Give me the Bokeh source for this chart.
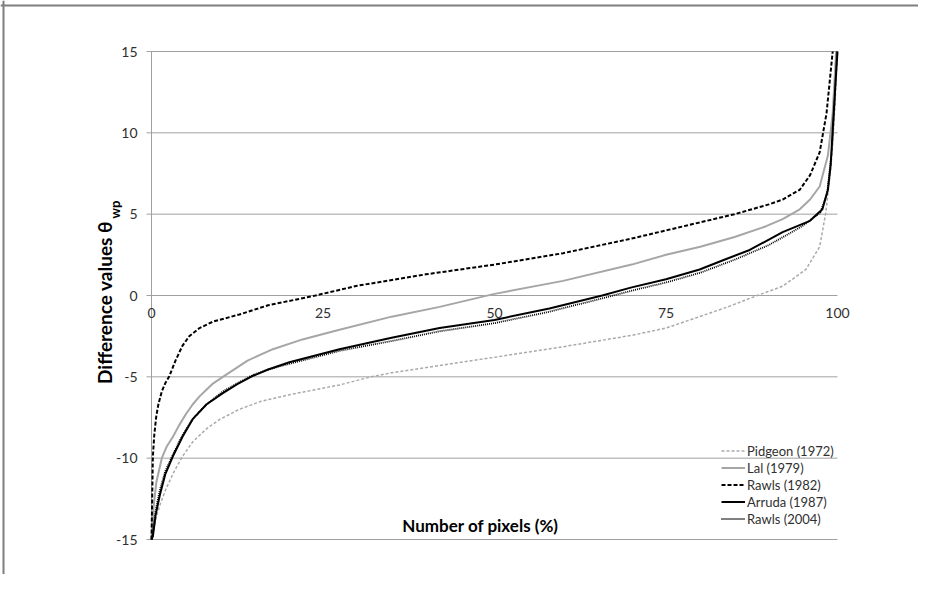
import math
from bokeh.plotting import figure
from bokeh.models import Legend, LegendItem, Label, Span
from bokeh.core.properties import value
from bokeh.embed import file_html
from bokeh.resources import INLINE

# ---------------- data ----------------
x_ticks = [0, 25, 50, 75, 100]
x_tick_labels = ["0", "25", "50", "75", "100"]
y_ticks = [-15, -10, -5, 0, 5, 10, 15]
y_tick_labels = ["-15", "-10", "-5", "0", "5", "10", "15"]

pidgeon_x = [0, 0.3, 0.7, 1.3, 2.1, 3.2, 4.5, 6, 8, 10, 12.8, 16, 20.1, 27.4, 32, 35, 42, 50,
             60, 65, 70, 75, 79.9, 84, 88.3, 92, 95.4, 97.4, 98.3, 99.1, 99.6, 100]
pidgeon_y = [-15, -14.5, -13.6, -12.8, -11.9, -10.9, -9.9, -9.0, -8.2, -7.6, -7.0, -6.5, -6.1,
             -5.5, -5.0, -4.75, -4.3, -3.8, -3.15, -2.8, -2.45, -2.0, -1.3, -0.7, 0.0, 0.57,
             1.6, 3.0, 5.1, 8.2, 11.5, 15]

lal_x = [0, 0.3, 0.7, 1.5, 2.2, 3.1, 4, 5, 6, 7, 8, 9, 10.9, 14, 17.7, 22, 27.4, 35, 42, 50,
         60, 70, 75, 80, 85, 89.6, 92, 94.5, 96, 97.4, 98.6, 99.3, 99.8]
lal_y = [-15, -13, -11.5, -10, -9.3, -8.7, -8.0, -7.3, -6.7, -6.2, -5.8, -5.4, -4.86, -4.0,
         -3.3, -2.7, -2.1, -1.3, -0.7, 0.1, 0.9, 1.9, 2.5, 3.0, 3.6, 4.26, 4.7, 5.3, 5.9, 6.7,
         8.6, 11.2, 15]

rawls82_x = [0, 0.2, 0.4, 0.7, 1.0, 1.5, 2.0, 2.6, 3.5, 4.5, 5.5, 7, 9, 12.8, 17, 23.5, 30,
             40, 50, 60, 70, 75, 80, 85, 90, 92, 94.5, 96, 97.4, 98.4, 99.3]
rawls82_y = [-15, -9.9, -8.6, -7.4, -6.7, -5.9, -5.4, -4.96, -4.0, -3.1, -2.5, -2.0, -1.6,
             -1.17, -0.6, -0.04, 0.6, 1.3, 1.9, 2.6, 3.5, 4.0, 4.5, 5.0, 5.6, 5.9, 6.5, 7.4,
             8.8, 11.2, 15]

arruda_x = [0, 0.2, 0.6, 1.2, 2, 3.1, 4.5, 6, 8, 10.4, 12.5, 14.7, 17, 20.1, 27.4, 35, 42, 50,
            58, 65.7, 70, 75, 79.9, 83.5, 87.2, 92, 95.9, 97.8, 98.6, 99.0, 99.3, 99.7, 100]
arruda_y = [-15, -14.8, -13.5, -12.3, -11.0, -9.9, -8.7, -7.6, -6.7, -6.0, -5.45, -4.96,
            -4.55, -4.1, -3.3, -2.6, -2.0, -1.5, -0.8, 0.0, 0.5, 1.0, 1.6, 2.2, 2.8, 3.9,
            4.57, 5.3, 6.5, 8.0, 10.2, 13, 15]

rawls04_x = [0, 0.2, 0.6, 1.2, 2, 3.1, 4.5, 6, 8, 10.4, 12.5, 14.7, 17, 20.1, 27.4, 35, 42, 50,
             58, 67.3, 70, 75, 80, 85, 90, 95, 97.5, 98.5, 99.2, 99.6, 99.9]
rawls04_y = [-15, -14.5, -13.2, -12.0, -10.8, -9.8, -8.6, -7.6, -6.7, -5.9, -5.4, -4.9, -4.55,
             -4.2, -3.4, -2.8, -2.2, -1.7, -1.0, 0.0, 0.3, 0.8, 1.4, 2.2, 3.1, 4.3, 5.1, 6.3,
             9.0, 12.0, 15]

series_names = ["Pidgeon (1972)", "Lal (1979)", "Rawls (1982)", "Arruda (1987)", "Rawls (2004)"]
x_title = "Number of pixels (%)"
y_title = "Difference values \u03b8"
y_title_sub = "wp"

FONT = "Lato"
GRID = "#a0a0a0"
TXT = "#303030"

# ---------------- geometry (pixels) ----------------
W, H = 918, 574           # canvas = plot frame
X_PX = 686 / 100.0        # pixels per x unit
Y_PX = 488 / 30.0         # pixels per y unit
LEFT = 151                # canvas px from left edge to x = 0
TOP = 51                  # canvas px from top edge to y = 15
BORDER_X, BORDER_Y = 3, 5 # outer picture border (canvas px)

x_range = (-LEFT / X_PX, (W - LEFT) / X_PX)
y_range = (15 + TOP / Y_PX - H / Y_PX, 15 + TOP / Y_PX)

p = figure(frame_width=W, frame_height=H, min_border=0,
           x_range=x_range, y_range=y_range,
           x_axis_location=None, y_axis_location=None,
           output_backend="svg", toolbar_location=None)
p.outline_line_color = None
p.xgrid.visible = False
p.ygrid.visible = False
p.background_fill_color = "white"
p.border_fill_color = "white"

# outer picture border (left and top)
p.add_layout(Span(location=-(LEFT - BORDER_X) / X_PX, dimension="height",
                  line_color="#7f7f7f", line_width=2))
p.add_layout(Span(location=15 + (TOP - BORDER_Y) / Y_PX, dimension="width",
                  line_color="#7f7f7f", line_width=2))

# horizontal grid lines (extended 5 px left of the axis as tick marks)
n = len(y_ticks)
p.segment(x0=[-5 / X_PX] * n, x1=[x_ticks[-1]] * n, y0=y_ticks, y1=y_ticks,
          line_color=GRID, line_width=1)
# vertical axis line
p.segment(x0=[0], x1=[0], y0=[y_ticks[0]], y1=[y_ticks[-1]], line_color=GRID, line_width=1)

# tick labels
p.text(x=[0] * n, y=y_ticks, text=y_tick_labels, x_offset=-14,
       text_align="right", text_baseline="middle", text_font=value(FONT),
       text_font_size="14px", text_color=TXT)
p.text(x=x_ticks, y=[0] * len(x_ticks), text=x_tick_labels, y_offset=17,
       text_align="center", text_baseline="middle", text_font=value(FONT),
       text_font_size="14px", text_color=TXT)

r_pid = p.line(pidgeon_x, pidgeon_y, line_color="#aaaaaa", line_width=1.5, line_dash="3 2")
r_lal = p.line(lal_x, lal_y, line_color="#a6a6a6", line_width=2)
r_r82 = p.line(rawls82_x, rawls82_y, line_color="black", line_width=2, line_dash="4 2")
r_r04 = p.line(rawls04_x, rawls04_y, line_color="black", line_width=1.8, line_dash="1 1")
r_arr = p.line(arruda_x, arruda_y, line_color="black", line_width=2)

# legend (location: px from bottom-left of the frame)
legend = Legend(items=[LegendItem(label=nm, renderers=[r]) for nm, r in
                       zip(series_names, [r_pid, r_lal, r_r82, r_arr, r_r04])],
                location=(721, H - 527), orientation="vertical",
                background_fill_alpha=0, border_line_color=None,
                padding=0, margin=0, spacing=0,
                label_height=17, glyph_height=17, glyph_width=24, label_standoff=2,
                label_text_font=FONT, label_text_font_size="13px", label_text_color=TXT)
p.add_layout(legend)

# axis titles (screen units from bottom-left of the frame)
p.add_layout(Label(x=480, y=H - 525, x_units="screen", y_units="screen", text=x_title,
                   text_align="center", text_baseline="middle", text_font=FONT,
                   text_font_size="17px", text_font_style="bold", text_color="black"))
p.add_layout(Label(x=104, y=H - 302, x_units="screen", y_units="screen", text=y_title,
                   angle=math.pi / 2, text_align="center", text_baseline="middle",
                   text_font=FONT, text_font_size="19px", text_font_style="bold",
                   text_color="black"))
p.add_layout(Label(x=114, y=H - 218, x_units="screen", y_units="screen", text=y_title_sub,
                   angle=math.pi / 2, text_align="left", text_baseline="middle",
                   text_font=FONT, text_font_size="13px", text_font_style="bold",
                   text_color="black"))

open("out.html", "w").write(file_html(p, INLINE))
